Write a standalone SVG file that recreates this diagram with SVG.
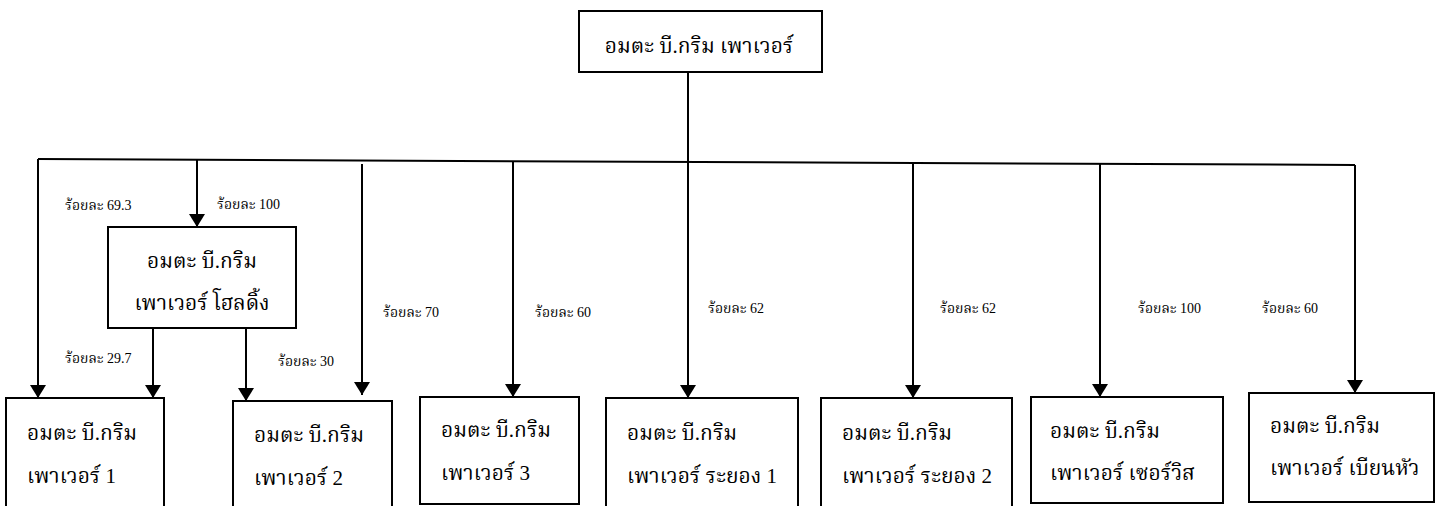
<svg xmlns="http://www.w3.org/2000/svg" width="1451" height="506" viewBox="0 0 1451 506">
<style>
.box{fill:#fff;stroke:#000;stroke-width:2}
.t{font-family:"Liberation Serif","Noto Serif Thai","Noto Sans Thai","Noto Sans",serif;font-size:21px;fill:#000}
.l{font-family:"Liberation Serif","Noto Serif Thai","Noto Sans Thai","Noto Sans",serif;font-size:14px;fill:#000}
.c{fill:none;stroke:#000;stroke-width:2}
</style>
<defs>
<marker id="ah" markerWidth="16" markerHeight="16" refX="13" refY="8" orient="auto" markerUnits="userSpaceOnUse">
<path d="M0,0 L13,8 L0,16 Z" fill="#000"/>
</marker>
</defs>
<rect width="1451" height="506" fill="#fff"/>
<g id="connectors">
<line class="c" x1="688" y1="72" x2="688" y2="161"/>
<path class="c" d="M1355,165 L38,159"/>
<line class="c" x1="38" y1="159" x2="38" y2="398" marker-end="url(#ah)"/>
<line class="c" x1="197" y1="159" x2="197" y2="227" marker-end="url(#ah)"/>
<line class="c" x1="153" y1="328" x2="153" y2="398" marker-end="url(#ah)"/>
<line class="c" x1="246" y1="328" x2="246" y2="401" marker-end="url(#ah)"/>
<line class="c" x1="362" y1="164" x2="362" y2="395" marker-end="url(#ah)"/>
<line class="c" x1="513" y1="162" x2="513" y2="397" marker-end="url(#ah)"/>
<line class="c" x1="688" y1="161" x2="688" y2="398" marker-end="url(#ah)"/>
<line class="c" x1="913" y1="163" x2="913" y2="398" marker-end="url(#ah)"/>
<line class="c" x1="1100" y1="163" x2="1100" y2="397" marker-end="url(#ah)"/>
<line class="c" x1="1355" y1="165" x2="1355" y2="393" marker-end="url(#ah)"/>
<text class="l" x="65" y="210">ร้อยละ 69.3</text>
<text class="l" x="217" y="209">ร้อยละ 100</text>
<text class="l" x="383" y="317">ร้อยละ 70</text>
<text class="l" x="65" y="363">ร้อยละ 29.7</text>
<text class="l" x="278" y="366">ร้อยละ 30</text>
<text class="l" x="535" y="317">ร้อยละ 60</text>
<text class="l" x="708" y="313">ร้อยละ 62</text>
<text class="l" x="940" y="313">ร้อยละ 62</text>
<text class="l" x="1138" y="313">ร้อยละ 100</text>
<text class="l" x="1262" y="313">ร้อยละ 60</text>
</g>
<g id="n-top">
<rect class="box" x="579" y="11" width="243" height="61"/>
<text class="t" x="699" y="53" text-anchor="middle">อมตะ บี.กริม เพาเวอร์</text>
</g>
<g id="n-holding">
<rect class="box" x="108" y="227" width="188" height="101"/>
<text class="t" x="202" y="268" text-anchor="middle">อมตะ บี.กริม</text>
<text class="t" x="202" y="310" text-anchor="middle">เพาเวอร์ โฮลดิ้ง</text>
</g>
<g id="n-p1">
<rect class="box" x="6" y="398" width="158" height="120"/>
<text class="t" x="27" y="440">อมตะ บี.กริม</text>
<text class="t" x="27" y="483">เพาเวอร์ 1</text>
</g>
<g id="n-p2">
<rect class="box" x="233" y="401" width="159" height="120"/>
<text class="t" x="254" y="442">อมตะ บี.กริม</text>
<text class="t" x="254" y="485">เพาเวอร์ 2</text>
</g>
<g id="n-p3">
<rect class="box" x="420" y="397" width="159" height="107"/>
<text class="t" x="441" y="437">อมตะ บี.กริม</text>
<text class="t" x="441" y="480">เพาเวอร์ 3</text>
</g>
<g id="n-ry1">
<rect class="box" x="606" y="398" width="192" height="120"/>
<text class="t" x="627" y="440">อมตะ บี.กริม</text>
<text class="t" x="627" y="483">เพาเวอร์ ระยอง 1</text>
</g>
<g id="n-ry2">
<rect class="box" x="821" y="398" width="191" height="120"/>
<text class="t" x="842" y="440">อมตะ บี.กริม</text>
<text class="t" x="842" y="483">เพาเวอร์ ระยอง 2</text>
</g>
<g id="n-service">
<rect class="box" x="1031" y="397" width="192" height="106"/>
<text class="t" x="1050" y="438">อมตะ บี.กริม</text>
<text class="t" x="1050" y="480">เพาเวอร์ เซอร์วิส</text>
</g>
<g id="n-bienhoa">
<rect class="box" x="1249" y="393" width="185" height="109"/>
<text class="t" x="1270" y="433">อมตะ บี.กริม</text>
<text class="t" x="1270" y="475">เพาเวอร์ เบียนหัว</text>
</g>
</svg>
